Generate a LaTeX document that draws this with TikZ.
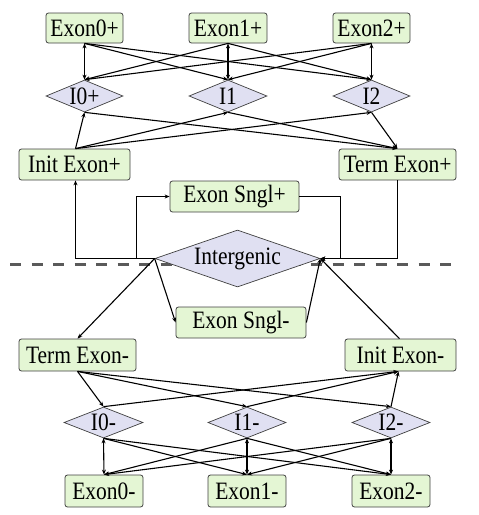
\documentclass[tikz,border=0pt]{standalone}
\usepackage{fontspec}
\setmainfont{Liberation Serif}
\newfontfamily\diagfont{Liberation Serif}[FakeStretch=0.86]
\usetikzlibrary{shapes.geometric,arrows.meta}
\definecolor{boxfill}{HTML}{E4F6D4}
\definecolor{diafill}{HTML}{E0E0F2}
\definecolor{edgegray}{HTML}{404040}
\definecolor{dashgray}{HTML}{5A5A5A}
\tikzset{
  exonbox/.style={draw=edgegray, fill=boxfill, rounded corners=2.5pt, line width=0.8pt,
    inner sep=0pt, font=\diagfont\fontsize{25}{25}\selectfont},
  dia/.style={diamond, draw=edgegray, fill=diafill, line width=0.7pt, inner sep=0pt},
  dlab/.style={font=\diagfont\fontsize{25}{25}\selectfont},
  conn/.style={line width=1.1pt, -{Stealth[length=5pt,width=4pt]}},
  dconn/.style={line width=1.1pt, {Stealth[length=5pt,width=4pt]}-{Stealth[length=5pt,width=4pt]}},
}
\begin{document}
\begin{tikzpicture}[x=1pt,y=-1pt]
\useasboundingbox (0,0) rectangle (479,515);
% dashed separator
\draw[dashgray, line width=3pt, dash pattern=on 11pt off 10.5pt] (10,264.5) -- (458,264.5);

% top exons
\node[exonbox, minimum width=77pt, minimum height=30pt] (e0p) at (84.5,28) {Exon0+};
\node[exonbox, minimum width=78pt, minimum height=30pt] (e1p) at (228,28) {Exon1+};
\node[exonbox, minimum width=77pt, minimum height=30pt] (e2p) at (371.5,28) {Exon2+};
% top introns
\node[dia, minimum width=77pt, minimum height=32pt, label={[dlab]center:I0+}] (i0p) at (84.5,96) {};
\node[dia, minimum width=78pt, minimum height=32pt, label={[dlab]center:I1}] (i1p) at (228,96) {};
\node[dia, minimum width=77pt, minimum height=32pt, label={[dlab]center:I2}] (i2p) at (371.5,96) {};
% init/term +
\node[exonbox, minimum width=111pt, minimum height=31pt] (initp) at (74.5,164.5) {Init Exon+};
\node[exonbox, minimum width=117pt, minimum height=31pt] (termp) at (397.5,164.5) {Term Exon+};
% single exons
\node[exonbox, minimum width=129pt, minimum height=31pt] (snglp) at (234.5,196.5) {Exon Sngl+};
\node[exonbox, minimum width=130pt, minimum height=31pt] (snglm) at (241,322.5) {Exon Sngl-};
% intergenic
\node[dia, minimum width=165pt, minimum height=57pt, label={[dlab]center:Intergenic}] (ig) at (237.5,258.5) {};
% init/term -
\node[exonbox, minimum width=117pt, minimum height=32pt] (termm) at (77.5,355) {Term Exon-};
\node[exonbox, minimum width=111pt, minimum height=32pt] (initm) at (400.5,355) {Init Exon-};
% bottom introns
\node[dia, minimum width=79pt, minimum height=31pt, label={[dlab]center:I0-}] (i0m) at (103.5,422.5) {};
\node[dia, minimum width=78pt, minimum height=31pt, label={[dlab]center:I1-}] (i1m) at (247,422.5) {};
\node[dia, minimum width=78pt, minimum height=31pt, label={[dlab]center:I2-}] (i2m) at (391,422.5) {};
% bottom exons
\node[exonbox, minimum width=78pt, minimum height=32pt] (e0m) at (104,491) {Exon0-};
\node[exonbox, minimum width=78pt, minimum height=32pt] (e1m) at (247,491) {Exon1-};
\node[exonbox, minimum width=78pt, minimum height=32pt] (e2m) at (391,491) {Exon2-};

% top exon <-> intron
\draw[dconn] (e0p.south) -- (i0p.north);
\draw[dconn] (e1p.south) -- (i1p.north);
\draw[dconn] (e2p.south) -- (i2p.north);
\draw[conn] (e0p.south) -- (i1p.north);
\draw[conn] (e0p.south) -- (i2p.north);
\draw[conn] (e1p.south) -- (i0p.north);
\draw[conn] (e1p.south) -- (i2p.north);
\draw[conn] (e2p.south) -- (i0p.north);
\draw[conn] (e2p.south) -- (i1p.north);
% init+ -> introns -> term+
\coordinate (initpt) at ([xshift=1pt]initp.north);
\draw[conn] (initpt) -- (i0p.south);
\draw[conn] (initpt) -- (i1p.south);
\draw[conn] (initpt) -- (i2p.south);
\draw[conn] (i0p.south) -- (termp.north);
\draw[conn] (i1p.south) -- (termp.north);
\draw[conn] (i2p.south) -- (termp.north);

% intergenic connections (upper)
\coordinate (initpb) at ([xshift=1pt]initp.south);
\draw[conn] (ig.west) -- (initpb |- ig.west) -- (initpb);
\coordinate (br) at (136.5,258.5);
\draw[conn] (br) |- (snglp.west);
\coordinate (sr) at (340.5,258.5);
\draw[conn] (snglp.east) -| (sr) -- (ig.east);
\draw[conn] (termp.south) |- (ig.east);

% intergenic connections (lower)
\draw[conn] (ig.west) -- (termm.north);
\draw[conn] (ig.west) -- (snglm.west);
\draw[conn] (snglm.east) -- (ig.east);
\coordinate (initmt) at ([xshift=-1pt]initm.north);
\draw[conn] (initmt) -- (ig.east);

% term- -> introns -> init-
\draw[conn] (termm.south) -- (i0m.north);
\draw[conn] (termm.south) -- (i1m.north);
\draw[conn] (termm.south) -- (i2m.north);
\coordinate (initmb) at ([xshift=-2pt]initm.south);
\draw[conn] (i0m.north) -- (initmb);
\draw[conn] (i1m.north) -- (initmb);
\draw[conn] (i2m.north) -- (initmb);

% bottom intron <-> exon
\draw[dconn] (i0m.south) -- (e0m.north);
\draw[dconn] (i1m.south) -- (e1m.north);
\draw[dconn] (i2m.south) -- (e2m.north);
\draw[conn] (i0m.south) -- (e1m.north);
\draw[conn] (i0m.south) -- (e2m.north);
\draw[conn] (i1m.south) -- (e0m.north);
\draw[conn] (i1m.south) -- (e2m.north);
\draw[conn] (i2m.south) -- (e0m.north);
\draw[conn] (i2m.south) -- (e1m.north);
\end{tikzpicture}
\end{document}
